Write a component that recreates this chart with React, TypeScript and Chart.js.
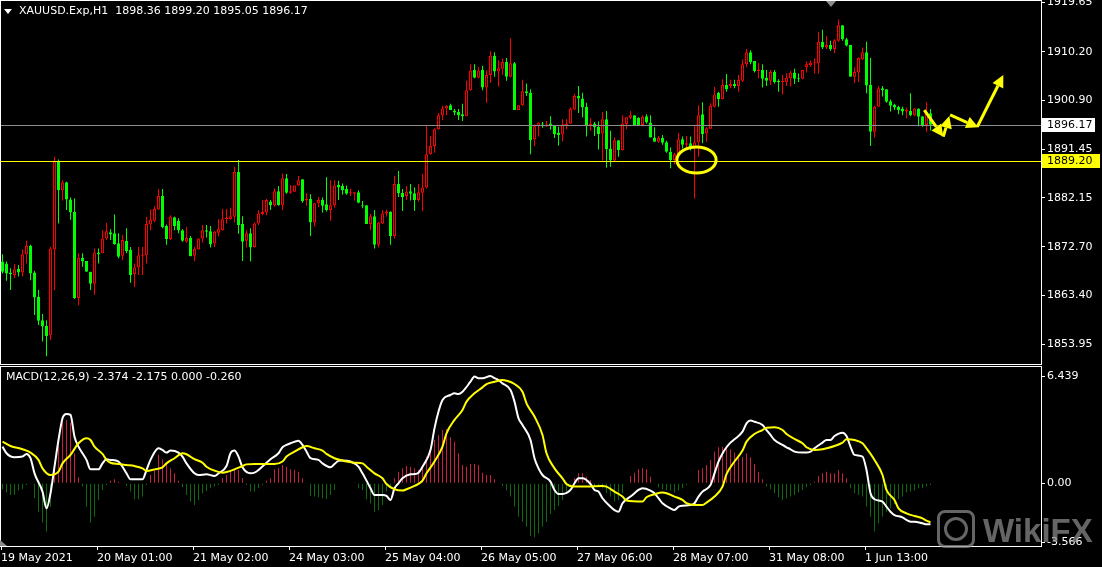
import React, { useEffect, useRef } from "react";
import { Chart, registerables } from "chart.js";

Chart.register(...registerables);

// ---------------- DATA ----------------
const symbolTitle = "XAUUSD.Exp,H1";
const lastQuote = ["1898.36", "1899.20", "1895.05", "1896.17"];
const macdTitle = "MACD(12,26,9) -2.374 -2.175 0.000 -0.260";

const opens = [
  1869.9, 1869.5, 1867.8, 1867.3, 1868.5, 1867.8, 1871.3, 1872.9, 1867.8, 1863.1,
  1858.6, 1857.5, 1855.7, 1872.2, 1889.1, 1883.6, 1885.1, 1881.8, 1879.4, 1862.9,
  1870.6, 1870.0, 1867.9, 1865.6, 1871.6, 1871.5, 1874.3, 1875.5, 1875.3, 1873.4,
  1871.0, 1873.9, 1872.1, 1867.5, 1868.8, 1871.0, 1871.1, 1877.0, 1877.7, 1879.9,
  1882.5, 1876.7, 1874.2, 1878.4, 1877.7, 1875.9, 1873.7, 1874.4, 1871.0, 1872.2,
  1874.3, 1875.9, 1875.7, 1873.4, 1875.4, 1875.9, 1878.0, 1878.0, 1878.5, 1887.1,
  1877.1, 1873.9, 1875.3, 1872.7, 1877.2, 1879.0, 1879.3, 1881.4, 1880.7, 1883.4,
  1880.7, 1885.9, 1883.1, 1883.3, 1884.5, 1885.7, 1881.6, 1881.9, 1877.4, 1881.1,
  1881.7, 1880.9, 1879.8, 1880.7, 1884.6, 1884.4, 1883.8, 1883.0, 1882.9, 1883.2,
  1880.7, 1880.7, 1877.1, 1878.6, 1873.1, 1877.2, 1879.1, 1879.5, 1874.8, 1884.8,
  1883.1, 1882.5, 1883.4, 1883.0, 1881.7, 1883.1, 1884.1, 1890.5, 1892.1, 1895.3,
  1898.0, 1899.3, 1899.9, 1898.9, 1898.6, 1898.2, 1897.8, 1902.8, 1906.7, 1905.2,
  1906.7, 1903.3, 1905.7, 1909.4, 1906.4, 1906.9, 1908.2, 1905.4, 1908.0, 1899.0,
  1899.9, 1902.6, 1902.3, 1893.4, 1895.9, 1896.4, 1896.2, 1896.4, 1896.0, 1894.7,
  1894.3, 1896.1, 1896.4, 1899.1, 1901.7, 1901.2, 1899.6, 1896.1, 1896.4, 1895.8,
  1894.5, 1897.2, 1891.6, 1889.3, 1893.2, 1891.3, 1896.3, 1897.5, 1898.0, 1897.5,
  1896.1, 1897.8, 1896.6, 1893.7, 1892.9, 1893.6, 1892.8, 1891.0, 1889.4, 1890.5,
  1893.4, 1892.3, 1892.6, 1891.9, 1892.8, 1898.2, 1894.5, 1895.4, 1899.6, 1902.3,
  1901.1, 1903.8, 1903.6, 1904.0, 1903.6, 1904.6, 1907.8, 1910.1, 1908.4, 1906.5,
  1906.7, 1905.2, 1904.6, 1906.3, 1904.6, 1904.4, 1904.4, 1905.1, 1906.2, 1905.2,
  1905.0, 1907.2, 1907.6, 1908.0, 1908.0, 1912.1, 1911.0, 1911.5, 1910.7, 1912.3,
  1915.3, 1912.6, 1911.5, 1905.4, 1906.2, 1908.7, 1910.1, 1903.8, 1894.8, 1899.6,
  1903.2, 1903.0, 1900.7, 1900.0, 1899.6, 1899.3, 1898.7, 1898.8, 1898.0, 1899.3,
  1897.8, 1896.1, 1898.36,
];

const highs = [
  1871.3, 1869.9, 1868.6, 1869.4, 1869.2, 1872.2, 1873.9, 1873.1, 1868.1, 1864.4,
  1859.8, 1858.6, 1872.7, 1890.0, 1889.5, 1885.5, 1885.2, 1882.2, 1882.0, 1871.5,
  1871.5, 1870.0, 1867.9, 1872.4, 1872.4, 1875.9, 1877.3, 1876.1, 1878.9, 1875.3,
  1875.0, 1876.3, 1872.7, 1869.5, 1872.7, 1872.7, 1878.5, 1879.9, 1880.5, 1883.8,
  1883.8, 1877.0, 1878.8, 1878.5, 1878.2, 1876.1, 1876.5, 1874.8, 1872.7, 1874.3,
  1876.9, 1876.9, 1876.7, 1875.8, 1878.0, 1880.0, 1880.0, 1880.2, 1888.1, 1889.4,
  1878.6, 1875.9, 1876.3, 1877.4, 1879.8, 1881.7, 1881.9, 1881.7, 1883.9, 1884.4,
  1886.8, 1886.7, 1884.6, 1884.5, 1886.3, 1885.7, 1883.0, 1882.8, 1881.2, 1882.3,
  1882.2, 1886.1, 1885.5, 1885.5, 1885.4, 1884.9, 1884.5, 1883.9, 1883.2, 1883.6,
  1881.5, 1880.7, 1879.0, 1879.8, 1877.5, 1879.8, 1879.8, 1879.5, 1886.3, 1887.3,
  1883.8, 1884.4, 1884.8, 1884.1, 1884.8, 1886.7, 1895.9, 1894.0, 1895.5, 1898.4,
  1899.8, 1899.9, 1900.2, 1899.2, 1899.2, 1900.2, 1904.6, 1907.8, 1907.8, 1907.2,
  1907.5, 1906.6, 1910.3, 1910.1, 1908.5, 1908.9, 1909.0, 1912.8, 1908.2, 1899.9,
  1904.8, 1904.1, 1903.0, 1896.2, 1896.6, 1896.7, 1896.9, 1897.8, 1896.1, 1895.8,
  1897.2, 1897.2, 1899.5, 1902.1, 1903.6, 1902.3, 1900.4, 1897.4, 1896.7, 1896.8,
  1898.6, 1898.8, 1895.0, 1893.7, 1893.2, 1898.0, 1897.6, 1898.8, 1898.0, 1897.6,
  1898.0, 1898.2, 1898.0, 1895.7, 1894.0, 1894.2, 1893.1, 1891.8, 1890.8, 1894.6,
  1893.9, 1894.0, 1893.9, 1895.9, 1899.9, 1900.5, 1895.7, 1900.3, 1903.4, 1902.5,
  1904.9, 1905.9, 1904.8, 1904.8, 1905.7, 1908.7, 1910.7, 1910.5, 1908.4, 1908.0,
  1907.8, 1906.7, 1906.7, 1906.7, 1904.9, 1905.7, 1906.0, 1906.5, 1906.9, 1906.0,
  1906.7, 1908.3, 1908.5, 1908.9, 1914.0, 1914.4, 1913.2, 1912.3, 1912.6, 1916.4,
  1915.3, 1912.9, 1911.5, 1907.2, 1909.1, 1911.0, 1912.1, 1909.0, 1899.8, 1903.6,
  1903.6, 1903.0, 1901.0, 1900.2, 1899.8, 1899.6, 1899.5, 1902.2, 1899.4, 1899.3,
  1897.8, 1900.5, 1899.2,
];

const lows = [
  1867.6, 1866.2, 1864.4, 1866.7, 1867.0, 1867.0, 1869.5, 1866.3, 1859.6, 1857.7,
  1854.5, 1851.7, 1854.8, 1864.4, 1877.2, 1881.6, 1879.8, 1877.9, 1862.7, 1861.5,
  1868.9, 1867.9, 1864.4, 1863.5, 1869.5, 1871.5, 1874.0, 1874.0, 1873.1, 1870.5,
  1870.2, 1871.5, 1865.8, 1865.0, 1867.3, 1867.3, 1869.5, 1875.9, 1877.5, 1879.8,
  1876.3, 1873.1, 1874.0, 1875.9, 1875.3, 1873.7, 1873.5, 1870.9, 1870.0, 1872.2,
  1873.5, 1874.5, 1872.6, 1872.7, 1874.7, 1875.8, 1877.2, 1877.9, 1877.4, 1875.2,
  1870.0, 1872.6, 1869.9, 1872.6, 1876.9, 1878.8, 1878.8, 1879.8, 1880.4, 1880.6,
  1879.8, 1882.9, 1882.9, 1883.3, 1884.4, 1881.2, 1880.6, 1874.8, 1876.6, 1880.3,
  1879.3, 1879.5, 1877.7, 1880.2, 1881.7, 1882.7, 1882.7, 1882.5, 1881.6, 1881.1,
  1880.1, 1877.1, 1875.9, 1872.4, 1872.6, 1877.1, 1878.5, 1873.1, 1874.3, 1882.3,
  1879.6, 1881.7, 1881.6, 1879.6, 1881.4, 1879.6, 1883.9, 1890.4, 1890.8, 1895.2,
  1897.1, 1898.0, 1899.0, 1898.0, 1897.1, 1896.9, 1897.8, 1902.7, 1905.1, 1905.1,
  1902.8, 1900.4, 1904.2, 1905.4, 1903.5, 1905.7, 1904.6, 1905.3, 1899.0, 1899.0,
  1899.8, 1901.7, 1890.5, 1892.1, 1893.9, 1895.6, 1895.8, 1895.2, 1893.6, 1892.2,
  1893.0, 1895.3, 1896.3, 1899.0, 1898.4, 1897.6, 1893.9, 1895.0, 1894.0, 1891.4,
  1889.3, 1887.9, 1888.1, 1889.1, 1890.0, 1891.2, 1895.3, 1897.2, 1896.1, 1896.1,
  1896.0, 1896.4, 1893.7, 1892.9, 1892.7, 1892.3, 1890.8, 1887.8, 1888.6, 1890.2,
  1891.6, 1891.8, 1891.2, 1882.0, 1890.0, 1892.6, 1892.9, 1895.4, 1899.5, 1899.6,
  1901.0, 1902.5, 1903.2, 1903.2, 1902.5, 1904.4, 1907.2, 1907.8, 1906.2, 1905.1,
  1903.3, 1903.6, 1903.8, 1904.1, 1902.5, 1902.0, 1903.6, 1903.5, 1904.0, 1904.4,
  1904.9, 1906.2, 1907.3, 1906.0, 1906.0, 1910.7, 1910.7, 1910.4, 1909.9, 1912.1,
  1912.3, 1911.2, 1905.4, 1904.2, 1904.4, 1908.6, 1902.2, 1892.1, 1893.7, 1899.6,
  1901.6, 1900.4, 1898.7, 1899.0, 1898.2, 1898.0, 1897.4, 1897.8, 1897.8, 1895.9,
  1895.8, 1894.8, 1895.05,
];

const closes = [
  1867.9, 1867.6, 1867.5, 1868.4, 1867.8, 1871.3, 1872.9, 1867.6, 1863.0, 1858.5,
  1857.4, 1855.6, 1872.4, 1889.1, 1883.6, 1885.1, 1881.8, 1879.3, 1862.9, 1870.6,
  1869.9, 1867.9, 1865.6, 1871.6, 1871.3, 1874.3, 1875.7, 1875.1, 1873.2, 1870.8,
  1874.0, 1871.9, 1867.3, 1868.8, 1871.1, 1871.1, 1877.1, 1877.9, 1880.0, 1882.5,
  1876.5, 1874.2, 1878.5, 1876.7, 1875.9, 1873.9, 1874.4, 1870.9, 1872.3, 1874.3,
  1875.9, 1875.6, 1873.2, 1875.6, 1876.1, 1878.0, 1878.3, 1878.6, 1887.1, 1876.9,
  1873.7, 1875.3, 1872.6, 1877.2, 1879.1, 1879.4, 1881.7, 1880.7, 1883.4, 1880.7,
  1885.9, 1883.1, 1883.4, 1884.5, 1885.5, 1881.5, 1881.9, 1877.4, 1881.1, 1881.7,
  1880.6, 1879.8, 1880.7, 1884.5, 1884.1, 1883.6, 1882.9, 1883.1, 1883.2, 1881.2,
  1880.5, 1877.1, 1878.6, 1873.1, 1877.4, 1879.1, 1879.5, 1874.8, 1884.8, 1883.0,
  1882.3, 1883.3, 1882.9, 1881.7, 1883.2, 1884.1, 1890.5, 1892.1, 1895.3, 1898.0,
  1899.3, 1899.8, 1899.0, 1898.5, 1898.0, 1897.8, 1902.8, 1906.6, 1905.2, 1906.6,
  1903.3, 1905.7, 1909.4, 1906.4, 1907.0, 1908.2, 1905.4, 1908.0, 1899.0, 1899.9,
  1902.6, 1902.2, 1893.2, 1895.9, 1896.6, 1896.2, 1896.4, 1896.0, 1894.4, 1894.2,
  1896.2, 1896.4, 1899.2, 1901.7, 1901.2, 1899.5, 1896.1, 1896.4, 1895.7, 1894.4,
  1897.2, 1891.5, 1889.3, 1893.2, 1891.3, 1896.4, 1897.6, 1898.0, 1896.1, 1896.1,
  1897.7, 1896.6, 1893.7, 1892.9, 1893.6, 1892.7, 1891.0, 1889.4, 1890.5, 1893.4,
  1892.3, 1892.6, 1891.9, 1892.8, 1898.0, 1894.4, 1895.5, 1899.8, 1902.0, 1901.1,
  1903.8, 1903.0, 1904.0, 1903.6, 1904.8, 1907.8, 1910.1, 1908.2, 1906.5, 1906.8,
  1905.0, 1904.6, 1906.3, 1904.4, 1904.4, 1904.6, 1905.2, 1906.2, 1905.0, 1905.0,
  1906.7, 1907.8, 1908.1, 1908.1, 1912.1, 1911.0, 1911.5, 1910.7, 1912.4, 1915.3,
  1912.6, 1911.4, 1905.4, 1906.3, 1909.0, 1910.1, 1903.7, 1894.8, 1899.6, 1903.2,
  1902.8, 1900.6, 1899.8, 1899.5, 1899.0, 1898.7, 1899.0, 1898.0, 1899.3, 1897.7,
  1895.9, 1898.4, 1896.17,
];

const priceTicks = [1919.65, 1910.2, 1900.9, 1891.45, 1882.15, 1872.7, 1863.4, 1853.95];
const bidPrice = 1896.17;
const levelPrice = 1889.2;

const timeTickBars = [0, 24, 48, 72, 96, 120, 144, 168, 192, 216];
const timeTickLabels = [
  "19 May 2021", "20 May 01:00", "21 May 02:00", "24 May 03:00", "25 May 04:00",
  "26 May 05:00", "27 May 06:00", "28 May 07:00", "31 May 08:00", "1 Jun 13:00",
];

// MACD main line (white), read at bar indices
const macdBars = [
  0, 1, 3, 5, 6, 7, 8, 10, 11, 12,
  13, 14, 15, 16, 17, 18, 19, 21, 22, 24,
  25, 26, 27, 29, 30, 31, 32, 34, 35, 36,
  37, 39, 40, 41, 42, 44, 45, 46, 48, 49,
  51, 53, 54, 56, 57, 58, 59, 60, 62, 63,
  64, 66, 67, 69, 70, 71, 72, 74, 75, 76,
  77, 79, 80, 82, 83, 84, 85, 87, 89, 90,
  91, 92, 93, 95, 96, 97, 98, 99, 100, 102,
  103, 104, 105, 107, 108, 109, 110, 112, 113, 114,
  115, 117, 118, 119, 120, 122, 123, 124, 125, 127,
  128, 129, 130, 132, 133, 134, 135, 137, 138, 139,
  140, 142, 143, 144, 145, 147, 148, 149, 150, 152,
  153, 154, 155, 157, 158, 159, 160, 162, 163, 164,
  165, 167, 168, 169, 170, 172, 173, 174, 175, 177,
  178, 179, 180, 181, 182, 183, 185, 186, 187, 188,
  190, 191, 192, 193, 195, 196, 197, 198, 200, 201,
  202, 203, 205, 206, 207, 208, 210, 211, 212, 213,
  215, 216, 217, 218, 220, 221, 222, 223, 225, 226,
  227, 228, 230, 231, 232,
];
const macdValues = [
  2.21, 1.81, 1.57, 1.61, 1.77, 1.51, 0.6, -0.5, -1.51, -0.6,
  1.0, 2.61, 3.92, 4.18, 4.12, 2.81, 2.21, 1.41, 0.84, 0.84,
  1.2, 1.45, 1.41, 1.31, 1.0, 0.6, 0.24, 0.24, 0.24, 0.8,
  1.41, 2.11, 2.01, 1.85, 1.97, 1.85, 1.61, 1.2, 0.6, 0.5,
  0.54, 0.44, 0.6, 1.04, 1.81, 1.97, 1.61, 0.96, 0.6, 0.64,
  0.8, 1.24, 1.45, 1.81, 2.17, 2.31, 2.41, 2.57, 2.31, 1.91,
  1.51, 1.41, 1.2, 0.96, 1.16, 1.35, 1.37, 1.31, 1.0, 0.6,
  0.16, -0.3, -0.7, -0.7, -0.76, -1.0, -0.3, 0.0, 0.3, 0.54,
  0.56, 0.64, 1.0, 2.01, 3.31, 4.32, 5.02, 5.32, 5.42, 5.38,
  5.52, 6.12, 6.43, 6.33, 6.33, 6.47, 6.33, 6.22, 6.02, 5.62,
  4.92, 3.92, 3.51, 2.61, 1.51, 0.9, 0.5, 0.1, -0.4, -0.64,
  -0.64, -0.4, 0.0, 0.3, 0.3, -0.04, -0.4, -0.5, -0.9, -1.41,
  -1.61, -1.71, -1.2, -0.8, -0.6, -0.4, -0.3, -0.44, -0.6, -0.9,
  -1.2, -1.51, -1.61, -1.41, -1.35, -1.31, -1.2, -0.8, -0.5, -0.1,
  0.6, 1.31, 1.8, 2.17, 2.45, 2.65, 3.11, 3.61, 3.78, 3.71,
  3.51, 3.21, 2.91, 2.61, 2.31, 2.17, 2.05, 1.91, 1.85, 1.85,
  1.91, 2.11, 2.45, 2.61, 2.61, 2.85, 3.05, 2.85, 2.21, 1.71,
  1.61, 0.8, -0.6, -0.96, -1.1, -1.41, -1.71, -1.91, -2.05, -2.21,
  -2.31, -2.31, -2.41, -2.47, -2.47,
];

// Signal line (yellow), read at bar indices
const signalBars = [
  0, 2, 5, 7, 9, 10, 12, 14, 15, 17,
  19, 21, 22, 23, 25, 26, 27, 29, 31, 33,
  35, 36, 38, 40, 41, 43, 45, 46, 48, 50,
  51, 53, 55, 56, 58, 60, 61, 63, 66, 68,
  70, 71, 73, 75, 76, 78, 80, 81, 83, 85,
  86, 88, 90, 91, 93, 95, 96, 98, 100, 101,
  103, 105, 106, 108, 110, 111, 113, 115, 116, 118,
  120, 121, 123, 125, 126, 128, 130, 131, 133, 135,
  136, 138, 140, 141, 143, 146, 150, 151, 153, 155,
  156, 160, 161, 163, 165, 166, 168, 170, 171, 173,
  175, 176, 178, 180, 181, 183, 185, 186, 188, 190,
  191, 193, 195, 196, 198, 200, 201, 203, 205, 206,
  208, 210, 211, 213, 215, 216, 218, 220, 221, 223,
  224, 226, 228, 230, 231, 232,
];
const signalValues = [
  2.51, 2.25, 2.05, 1.85, 1.41, 0.9, 0.5, 0.7, 1.2, 1.71,
  2.41, 2.71, 2.61, 2.21, 1.77, 1.41, 1.24, 1.16, 1.1, 1.04,
  0.9, 0.74, 0.84, 0.96, 1.2, 1.51, 1.81, 1.75, 1.45, 1.24,
  1.0, 0.76, 0.64, 0.68, 0.84, 1.04, 1.14, 1.16, 1.16, 1.16,
  1.31, 1.61, 1.91, 2.17, 2.25, 2.11, 1.97, 1.77, 1.51, 1.37,
  1.31, 1.24, 1.2, 1.0, 0.6, 0.3, -0.04, -0.36, -0.44, -0.36,
  -0.16, 0.16, 0.6, 1.31, 2.21, 3.01, 3.82, 4.42, 4.92, 5.42,
  5.78, 5.98, 6.12, 6.22, 6.18, 5.98, 5.52, 4.82, 4.02, 2.91,
  1.81, 0.9, 0.3, -0.04, -0.2, -0.2, -0.16, -0.2, -0.5, -0.8,
  -1.04, -1.1, -0.84, -0.66, -0.56, -0.6, -0.8, -1.0, -1.2, -1.31,
  -1.31, -1.16, -0.8, -0.2, 0.55, 1.31, 1.97, 2.51, 2.97, 3.21,
  3.35, 3.37, 3.21, 2.97, 2.67, 2.41, 2.17, 2.01, 2.05, 2.11,
  2.25, 2.45, 2.65, 2.61, 2.41, 2.11, 1.41, 0.5, -0.4, -1.0,
  -1.51, -1.81, -1.97, -2.11, -2.25, -2.35,
];

// Histogram, one value per bar
const histValues = [
  -0.36, -0.56, -0.7, -0.7, -0.44, -0.36, -0.1, -0.04, -0.9, -1.71,
  -2.37, -2.91, -1.41, 0.84, 2.25, 3.86, 3.82, 3.65, 1.81, 0.36,
  -0.2, -1.41, -2.37, -2.01, -1.0, -0.4, -0.1, 0.16, 0.24, 0.1,
  0.04, -0.16, -0.5, -0.96, -0.96, -0.8, -0.1, 0.5, 0.8, 1.71,
  1.45, 1.2, 0.9, 0.6, 0.16, -0.24, -0.7, -1.1, -1.31, -1.0,
  -0.6, -0.46, -0.3, -0.2, -0.1, 0.3, 0.5, 0.7, 0.9, 0.8,
  0.3, -0.1, -0.5, -0.5, -0.3, -0.1, 0.16, 0.3, 0.84, 0.9,
  1.1, 1.0, 0.84, 0.8, 0.7, 0.3, -0.04, -0.76, -0.8, -0.84,
  -0.9, -0.96, -0.7, -0.4, 0.04, 0.04, 0.04, 0.04, 0.02, -0.3,
  -0.4, -0.96, -1.2, -1.71, -1.61, -1.31, -0.5, -0.2, 0.3, 0.7,
  0.9, 1.04, 1.0, 0.9, 0.8, 1.0, 1.61, 2.11, 2.61, 2.91,
  3.21, 3.27, 2.77, 2.51, 1.81, 1.1, 1.0, 1.16, 1.16, 1.1,
  0.64, 0.5, 0.5, 0.24, 0.0, -0.16, -0.44, -0.8, -1.41, -2.01,
  -2.31, -2.61, -3.17, -3.25, -3.01, -2.61, -2.31, -1.85, -1.61, -1.37,
  -1.0, -0.5, -0.1, 0.3, 0.6, 0.6, 0.4, 0.2, -0.16, -0.2,
  -0.3, -0.6, -0.8, -1.1, -1.0, -0.6, 0.0, 0.44, 0.64, 0.84,
  0.9, 0.84, 0.4, -0.04, -0.24, -0.36, -0.4, -0.44, -0.56, -0.44,
  -0.3, -0.1, -0.04, -0.02, 0.8, 0.9, 1.1, 1.41, 1.91, 2.17,
  2.2, 2.1, 2.05, 1.85, 1.71, 1.57, 1.81, 1.57, 1.16, 0.7,
  0.24, -0.2, -0.36, -0.6, -0.84, -1.0, -0.9, -0.8, -0.7, -0.56,
  -0.4, -0.24, -0.1, 0.1, 0.44, 0.6, 0.7, 0.6, 0.6, 0.8,
  0.6, 0.3, -0.3, -0.6, -0.7, -0.8, -1.41, -2.01, -2.91, -2.41,
  -2.01, -1.71, -1.51, -1.25, -0.96, -0.8, -0.56, -0.5, -0.44, -0.3,
  -0.3, -0.2, -0.1,
];

const macdTicks = [6.439, 0, -3.566];
const macdTickLabels = ["6.439", "0.00", "-3.566"];

// Drawn annotations, in (bar index, price) coordinates
const ellipseBars = [168.6, 178.4];
const ellipsePrices = [1891.9, 1886.9];
const arrowFrom = [
  [230.45, 1898.98],
  [235.2, 1893.87],
  [236.9, 1898.04],
  [243.7, 1895.79],
];
const arrowTo = [
  [235.2, 1893.87],
  [236.7, 1897.84],
  [243.95, 1895.67],
  [250.2, 1905.72],
];

// ---------------- LAYOUT CONSTANTS ----------------
const W = 1102;
const TOP_H = 365;
const BOT_H = 202;
const X_MIN = -0.375;
const X_MAX = 259.625;
const TICK_SHIFT = -0.375; // MT4 puts the time mark on the bar's left edge
const P_MIN = 1850.2;
const P_MAX = 1919.94;
const M_MIN = -3.777;
const M_MAX = 7.006;
const FONT = "'DejaVu Sans', Verdana, sans-serif";
const FS = 11;

const UP = "#FF0000";
const DOWN = "#00FF00";

function drawArrow(ctx: CanvasRenderingContext2D, x1: number, y1: number, x2: number, y2: number) {
  const ang = Math.atan2(y2 - y1, x2 - x1);
  const headL = 12;
  const headW = 6;
  const bx = x2 - headL * Math.cos(ang);
  const by = y2 - headL * Math.sin(ang);
  ctx.beginPath();
  ctx.moveTo(x1, y1);
  ctx.lineTo(bx, by);
  ctx.stroke();
  ctx.beginPath();
  ctx.moveTo(x2, y2);
  ctx.lineTo(bx + headW * Math.sin(ang), by - headW * Math.cos(ang));
  ctx.lineTo(bx - headW * Math.sin(ang), by + headW * Math.cos(ang));
  ctx.closePath();
  ctx.fill();
}

const noPad = (s: any) => {
  s.paddingTop = 0;
  s.paddingBottom = 0;
  s.paddingLeft = 0;
  s.paddingRight = 0;
};

const priceOverlay = {
  id: "priceOverlay",
  afterDatasetsDraw(chart: any) {
    const { ctx, chartArea: a, scales } = chart;
    const x = scales.x;
    const y = scales.y;
    ctx.save();
    const hline = (price: number, color: string) => {
      const py = Math.round(y.getPixelForValue(price)) + 0.5;
      ctx.strokeStyle = color;
      ctx.lineWidth = 1;
      ctx.beginPath();
      ctx.moveTo(a.left, py);
      ctx.lineTo(a.right, py);
      ctx.stroke();
    };
    hline(bidPrice, "#8C8C8C");
    hline(levelPrice, "#FFFF00");

    const ex1 = x.getPixelForValue(ellipseBars[0]);
    const ex2 = x.getPixelForValue(ellipseBars[1]);
    const ey1 = y.getPixelForValue(ellipsePrices[0]);
    const ey2 = y.getPixelForValue(ellipsePrices[1]);
    ctx.strokeStyle = "#FFFF00";
    ctx.fillStyle = "#FFFF00";
    ctx.lineWidth = 3;
    ctx.beginPath();
    ctx.ellipse((ex1 + ex2) / 2, (ey1 + ey2) / 2, Math.abs(ex2 - ex1) / 2, Math.abs(ey2 - ey1) / 2, 0, 0, Math.PI * 2);
    ctx.stroke();

    ctx.lineWidth = 3;
    ctx.lineCap = "butt";
    for (let k = 0; k < arrowFrom.length; k++) {
      drawArrow(
        ctx,
        x.getPixelForValue(arrowFrom[k][0]),
        y.getPixelForValue(arrowFrom[k][1]),
        x.getPixelForValue(arrowTo[k][0]),
        y.getPixelForValue(arrowTo[k][1])
      );
    }
    ctx.restore();
  },
  afterDraw(chart: any) {
    const { ctx, chartArea: a, scales } = chart;
    const y = scales.y;
    ctx.save();
    ctx.strokeStyle = "#FFFFFF";
    ctx.lineWidth = 1;
    ctx.strokeRect(a.left - 0.5, a.top - 0.5, a.right - a.left + 1, a.bottom - a.top + 1);

    const box = (price: number, text: string, bg: string, w: number) => {
      const py = Math.round(y.getPixelForValue(price));
      ctx.fillStyle = bg;
      ctx.fillRect(a.right + 1, py - 7, w, 14);
      ctx.fillStyle = "#000000";
      ctx.font = `${FS}px ${FONT}`;
      ctx.textBaseline = "middle";
      ctx.textAlign = "left";
      ctx.fillText(text, a.right + 6, py + 0.5);
    };
    box(bidPrice, bidPrice.toFixed(2), "#FFFFFF", 53);
    box(levelPrice, levelPrice.toFixed(2), "#FFFF00", 58);
    ctx.restore();
  },
};

const macdOverlay = {
  id: "macdOverlay",
  afterDraw(chart: any) {
    const { ctx, chartArea: a } = chart;
    ctx.save();
    ctx.strokeStyle = "#FFFFFF";
    ctx.lineWidth = 1;
    ctx.strokeRect(a.left - 0.5, a.top - 0.5, a.right - a.left + 1, a.bottom - a.top + 1);
    ctx.fillStyle = "#8C8C8C";
    ctx.beginPath();
    ctx.moveTo(a.left - 1, a.bottom - 6);
    ctx.lineTo(a.left - 1, a.bottom);
    ctx.lineTo(a.left + 6, a.bottom);
    ctx.closePath();
    ctx.fill();
    ctx.restore();
  },
};

export default function App() {
  const topRef = useRef<HTMLCanvasElement | null>(null);
  const botRef = useRef<HTMLCanvasElement | null>(null);

  useEffect(() => {
    Chart.defaults.font.family = FONT;
    Chart.defaults.font.size = FS;
    Chart.defaults.color = "#FFFFFF";

    const isUp = opens.map((o, i) => closes[i] >= o);

    const priceChart = new Chart(topRef.current as HTMLCanvasElement, {
      type: "bar",
      data: {
        datasets: [
          {
            label: "body",
            data: opens.map((o, i) => ({ x: i, y: [o, closes[i]] })) as any,
            backgroundColor: isUp.map((u) => (u ? "#000000" : DOWN)),
            borderColor: isUp.map((u) => (u ? UP : DOWN)),
            borderWidth: 1,
            borderSkipped: false,
            barThickness: 3,
            grouped: false,
            inflateAmount: 0,
            minBarLength: 1,
            order: 0,
          } as any,
          {
            label: "wick",
            data: lows.map((l, i) => ({ x: i, y: [l, highs[i]] })) as any,
            backgroundColor: isUp.map((u) => (u ? UP : DOWN)),
            borderWidth: 0,
            barThickness: 1,
            grouped: false,
            inflateAmount: 0,
            minBarLength: 1,
            order: 1,
          } as any,
        ],
      },
      options: {
        animation: false,
        responsive: false,
        devicePixelRatio: 1,
        events: [],
        layout: { padding: { left: 1, top: 1, bottom: 1, right: 0 } },
        plugins: { legend: { display: false }, tooltip: { enabled: false } },
        scales: {
          x: { type: "linear", display: false, min: X_MIN, max: X_MAX, offset: false },
          y: {
            type: "linear",
            position: "right",
            min: P_MIN,
            max: P_MAX,
            afterFit: (s: any) => {
              s.width = W - 1041;
              noPad(s);
            },
            afterBuildTicks: (s: any) => {
              s.ticks = priceTicks.map((v) => ({ value: v }));
            },
            ticks: {
              color: "#FFFFFF",
              padding: 2,
              autoSkip: false,
              callback: (v: any) => Number(v).toFixed(2),
              font: { family: FONT, size: FS },
            },
            grid: { drawOnChartArea: false, drawTicks: true, tickLength: 4, color: "#FFFFFF" },
            border: { display: false },
          },
        },
      } as any,
      plugins: [priceOverlay],
    });

    const macdChart = new Chart(botRef.current as HTMLCanvasElement, {
      type: "bar",
      data: {
        datasets: [
          {
            type: "line",
            label: "signal",
            data: signalBars.map((b, k) => ({ x: b, y: signalValues[k] })),
            borderColor: "#FFFF00",
            borderWidth: 2,
            pointRadius: 0,
            cubicInterpolationMode: "monotone",
            order: 0,
          } as any,
          {
            type: "line",
            label: "macd",
            data: macdBars.map((b, k) => ({ x: b, y: macdValues[k] })),
            borderColor: "#FFFFFF",
            borderWidth: 2,
            pointRadius: 0,
            cubicInterpolationMode: "monotone",
            order: 1,
          } as any,
          {
            type: "bar",
            label: "hist",
            data: histValues.map((v, i) => ({ x: i, y: v })),
            backgroundColor: histValues.map((v) => (v >= 0 ? "#C8203F" : "#0E6A0E")),
            borderWidth: 0,
            barThickness: 1,
            grouped: false,
            inflateAmount: 0,
            order: 2,
          } as any,
        ],
      },
      options: {
        animation: false,
        responsive: false,
        devicePixelRatio: 1,
        events: [],
        layout: { padding: { left: 1, top: 2, bottom: 0, right: 0 } },
        plugins: { legend: { display: false }, tooltip: { enabled: false } },
        scales: {
          x: {
            type: "linear",
            min: X_MIN,
            max: X_MAX,
            offset: false,
            afterFit: (s: any) => {
              s.height = 21;
              noPad(s);
            },
            afterBuildTicks: (s: any) => {
              s.ticks = timeTickBars.map((v) => ({ value: v + TICK_SHIFT }));
            },
            ticks: {
              color: "#FFFFFF",
              align: "start",
              maxRotation: 0,
              autoSkip: false,
              padding: 2,
              callback: (_v: any, idx: number) => timeTickLabels[idx],
              font: { family: FONT, size: FS },
            },
            grid: { offset: false, drawOnChartArea: false, drawTicks: true, tickLength: 4, color: "#FFFFFF" },
            border: { display: false },
          },
          y: {
            type: "linear",
            position: "right",
            min: M_MIN,
            max: M_MAX,
            afterFit: (s: any) => {
              s.width = W - 1041;
              noPad(s);
            },
            afterBuildTicks: (s: any) => {
              s.ticks = macdTicks.map((v) => ({ value: v }));
            },
            ticks: {
              color: "#FFFFFF",
              padding: 2,
              autoSkip: false,
              callback: (_v: any, idx: number) => macdTickLabels[idx],
              font: { family: FONT, size: FS },
            },
            grid: { drawOnChartArea: false, drawTicks: true, tickLength: 4, color: "#FFFFFF" },
            border: { display: false },
          },
        },
      } as any,
      plugins: [macdOverlay],
    });

    return () => {
      priceChart.destroy();
      macdChart.destroy();
    };
  }, []);

  const wm = "rgba(140,140,140,0.72)";
  return (
    <div
      style={{
        position: "fixed",
        left: 0,
        top: 0,
        width: W,
        height: TOP_H + BOT_H,
        background: "#000000",
        overflow: "hidden",
        fontFamily: FONT,
      }}
    >
      <canvas ref={topRef} width={W} height={TOP_H} style={{ position: "absolute", left: 0, top: 0, display: "block" }} />
      <canvas ref={botRef} width={W} height={BOT_H} style={{ position: "absolute", left: 0, top: TOP_H, display: "block" }} />

      {/* title */}
      <div
        style={{
          position: "absolute",
          left: 4,
          top: 9,
          width: 0,
          height: 0,
          borderLeft: "4px solid transparent",
          borderRight: "4px solid transparent",
          borderTop: "5px solid #FFFFFF",
        }}
      />
      <div
        style={{
          position: "absolute",
          left: 19,
          top: 4,
          fontSize: FS,
          lineHeight: "14px",
          color: "#FFFFFF",
          whiteSpace: "pre",
        }}
      >
        {symbolTitle + "  " + lastQuote.join(" ")}
      </div>
      <div
        style={{
          position: "absolute",
          left: 6,
          top: 370,
          fontSize: FS,
          lineHeight: "14px",
          color: "#FFFFFF",
          whiteSpace: "pre",
        }}
      >
        {macdTitle}
      </div>

      {/* chart shift marker */}
      <div
        style={{
          position: "absolute",
          left: 826,
          top: 1,
          width: 0,
          height: 0,
          borderLeft: "5px solid transparent",
          borderRight: "5px solid transparent",
          borderTop: "6px solid #8C8C8C",
        }}
      />

      {/* watermark */}
      <div
        style={{
          position: "absolute",
          left: 937,
          top: 510,
          width: 32,
          height: 32,
          border: `3px solid ${wm}`,
          borderRadius: 8,
        }}
      >
        <div
          style={{
            position: "absolute",
            left: 4,
            top: 4,
            width: 18,
            height: 18,
            borderRadius: "50%",
            border: `3px solid ${wm}`,
          }}
        />
      </div>
      <div
        style={{
          position: "absolute",
          left: 983,
          top: 514,
          fontSize: 33,
          lineHeight: "33px",
          fontWeight: "bold",
          fontFamily: "'Liberation Sans', Arial, sans-serif",
          color: wm,
          whiteSpace: "pre",
        }}
      >
        WikiFX
      </div>
    </div>
  );
}
